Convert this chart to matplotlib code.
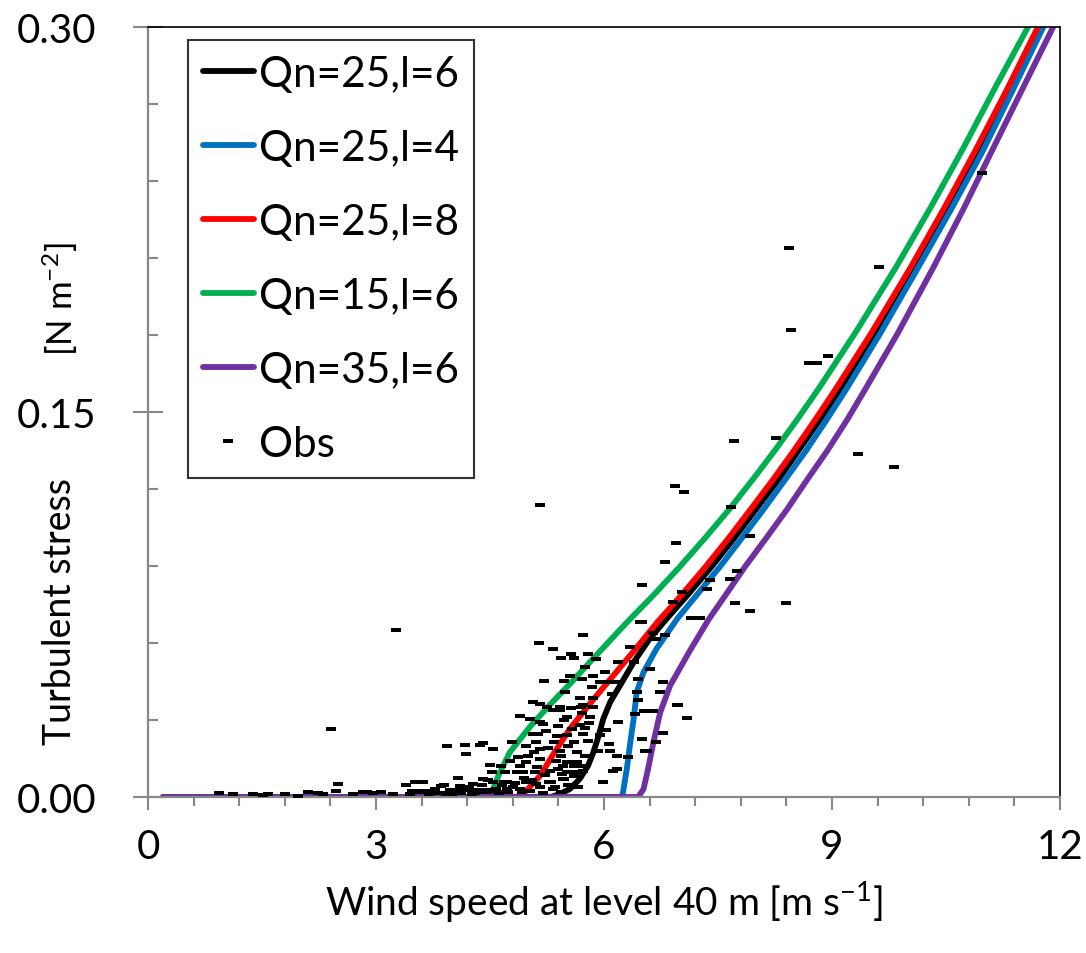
import matplotlib
matplotlib.use('Agg')
import matplotlib.pyplot as plt
import numpy as np
from matplotlib.ticker import MultipleLocator, FixedLocator

plt.rcParams['font.family'] = ['Lato', 'DejaVu Sans']
plt.rcParams['mathtext.default'] = 'regular'

# model curves: wind speed [m/s] vs turbulent stress [N m-2]
black_u = [0.2, 5.3, 5.42, 5.55, 5.68, 5.79, 5.86, 5.93, 5.99, 6.08, 6.21, 6.39, 6.6, 6.82, 7.10, 7.42, 7.71, 7.99, 8.29, 8.56, 8.84, 9.11, 9.56, 10.08, 10.51, 10.92, 11.34, 11.75]
black_t = [0, 0, 0.0012, 0.0031, 0.007, 0.0122, 0.0174, 0.0239, 0.0304, 0.0369, 0.0434, 0.0525, 0.0616, 0.0693, 0.0787, 0.0899, 0.1007, 0.1117, 0.1235, 0.135, 0.147, 0.159, 0.1804, 0.2061, 0.2291, 0.2515, 0.2755, 0.30]

blue_u = [0.2, 6.23, 6.25, 6.30, 6.34, 6.39, 6.43, 6.52, 6.69, 6.96, 7.22, 7.53, 7.81, 8.09, 8.38, 8.66, 8.93, 9.19, 9.63, 10.13, 10.57, 10.98, 11.38, 11.78]
blue_t = [0, 0, 0.0018, 0.0109, 0.02, 0.0304, 0.0408, 0.0486, 0.0577, 0.0693, 0.0787, 0.0899, 0.1007, 0.1117, 0.1235, 0.135, 0.147, 0.159, 0.1804, 0.2061, 0.2291, 0.2515, 0.2755, 0.30]

red_u = [0.2, 4.85, 4.98, 5.16, 5.33, 5.55, 5.86, 6.12, 6.43, 6.71, 7.0, 7.33, 7.63, 7.92, 8.22, 8.5, 8.78, 9.05, 9.51, 10.03, 10.47, 10.88, 11.3, 11.71]
red_t = [0, 0, 0.0025, 0.0083, 0.0165, 0.0265, 0.0380, 0.0472, 0.0582, 0.0684, 0.0780, 0.0895, 0.1005, 0.1117, 0.1235, 0.135, 0.147, 0.159, 0.1804, 0.2061, 0.2291, 0.2515, 0.2755, 0.30]

green_u = [0.2, 4.5, 4.54, 4.61, 4.76, 5.03, 5.29, 5.55, 5.86, 6.3, 6.65, 7.0, 7.33, 7.66, 7.96, 8.26, 8.55, 8.84, 9.31, 9.85, 10.30, 10.72, 11.16, 11.58]
green_t = [0, 0, 0.0031, 0.0083, 0.0174, 0.0275, 0.0360, 0.0440, 0.0540, 0.0680, 0.0786, 0.0898, 0.1009, 0.1125, 0.1238, 0.1355, 0.1474, 0.1598, 0.181, 0.2068, 0.2298, 0.2524, 0.2771, 0.30]

purple_u = [0.2, 6.2, 6.45, 6.52, 6.58, 6.65, 6.74, 6.87, 7.13, 7.38, 7.6, 7.86, 8.13, 8.40, 8.67, 8.94, 9.20, 9.44, 9.86, 10.33, 10.73, 11.1, 11.5, 11.91]
purple_t = [0, 0, 0, 0.0031, 0.0109, 0.0213, 0.033, 0.0434, 0.057, 0.0693, 0.0787, 0.0899, 0.1007, 0.1117, 0.1235, 0.135, 0.147, 0.159, 0.1804, 0.2061, 0.2291, 0.2515, 0.2755, 0.30]

# observations
obs_u = [0.93, 1.12, 1.38, 1.51, 1.58, 1.80, 1.98, 2.11, 2.24, 2.30, 2.41, 2.48, 2.50, 2.70, 2.83, 2.88, 2.96,
         3.07, 3.23, 3.26, 3.40, 3.47, 3.51, 3.55, 3.62, 3.66, 3.73, 3.86, 3.89, 3.93, 3.97, 4.06, 4.08, 4.10,
         4.17, 4.17, 4.19, 4.19, 4.28, 4.32, 4.37, 4.41, 4.41, 4.43, 4.47, 4.50, 4.52, 4.52, 4.54, 4.54, 4.65,
         4.68, 4.70, 4.72, 4.76, 4.79, 4.83, 4.85, 4.87, 4.89, 4.89, 4.89, 4.94, 4.98, 4.98, 5.00, 5.03, 5.06,
         5.07, 5.09, 5.11, 5.13, 5.14, 5.16, 5.16, 5.16, 5.16, 5.16, 5.21, 5.24, 5.25, 5.29, 5.33, 5.33, 5.33,
         5.38, 5.39, 5.40, 5.42, 5.42, 5.44, 5.44, 5.46, 5.47, 5.42, 5.46, 5.48, 5.49, 5.51, 5.51, 5.51, 5.51,
         5.55, 5.57, 5.57, 5.60, 5.60, 5.60, 5.62, 5.64, 5.68, 5.68, 5.71, 5.71, 5.72, 5.73, 5.73, 5.73, 5.75,
         5.75, 5.75, 5.79, 5.79, 5.82, 5.86, 5.86, 5.86, 5.90, 5.95, 5.95, 5.99, 6.01, 6.06, 6.06, 6.08, 6.10,
         6.12, 6.17, 6.17, 6.17, 6.19, 6.19, 6.32, 6.34, 6.39, 6.41, 6.43, 6.45, 6.45, 6.47, 6.50, 6.50, 6.50,
         6.52, 6.54, 6.56, 6.61, 6.65, 6.65, 6.69, 6.69, 6.74, 6.78, 6.78, 6.80, 6.80, 6.91, 6.93, 6.95, 6.96,
         6.98, 7.02, 7.05, 7.09, 7.15, 7.26, 7.35, 7.40, 7.66, 7.67, 7.71, 7.73, 7.75, 7.92, 7.92, 8.26, 8.39,
         8.43, 8.46, 8.70, 8.80, 8.95, 9.34, 9.62, 9.82, 10.97, 5.16, 5.73, 4.30, 4.60, 4.00, 3.80, 3.70,
         3.45, 3.58, 3.70, 3.78, 3.84, 3.92, 4.02, 4.12, 4.22, 4.26, 4.35, 4.40, 4.46, 4.58, 4.62, 4.66, 4.74,
         4.80, 4.92, 5.02, 5.10, 5.20, 5.27, 5.36, 4.95, 5.05, 5.12, 5.22, 5.30, 5.37, 5.45, 5.53, 5.60, 5.66,
         5.26, 5.34, 5.44, 5.52, 5.64, 5.80, 5.92, 6.02, 5.20, 5.48, 5.58, 5.70, 5.84, 4.56, 4.72, 4.98, 5.08]
obs_t = [0.0015, 0.0010, 0.0010, 0.0006, 0.0010, 0.0010, 0.0005, 0.0018, 0.0015, 0.0010, 0.0265, 0.0025, 0.0050, 0.0010, 0.0018, 0.0018, 0.0014,
         0.0020, 0.0010, 0.0650, 0.0047, 0.0025, 0.0057, 0.0025, 0.0060, 0.0025, 0.0025, 0.0044, 0.0047, 0.0200, 0.0027, 0.0027, 0.0073, 0.0044,
         0.0038, 0.0203, 0.0168, 0.0027, 0.0051, 0.0027, 0.0203, 0.0070, 0.0210, 0.0027, 0.0067, 0.0126, 0.0096, 0.0027, 0.0057, 0.0187, 0.0120,
         0.0057, 0.0096, 0.0031, 0.0141, 0.0215, 0.0055, 0.0096, 0.0155, 0.0122, 0.0314, 0.0031, 0.0096, 0.0135, 0.0057, 0.0161, 0.0304, 0.0371,
         0.0245, 0.0096, 0.0213, 0.0245, 0.0599, 0.0361, 0.0291, 0.0187, 0.0148, 0.0038, 0.0451, 0.0258, 0.0349, 0.0102, 0.0577, 0.0338, 0.0031,
         0.0239, 0.0109, 0.0278, 0.0338, 0.0350, 0.0542, 0.0018, 0.0070, 0.0451, 0.0180, 0.0120, 0.0070, 0.0410, 0.0310, 0.0240, 0.0135, 0.0097,
         0.0470, 0.0557, 0.0345, 0.0540, 0.0213, 0.0120, 0.0097, 0.0135, 0.0385, 0.0280, 0.0460, 0.0326, 0.0120, 0.0630, 0.0360, 0.0245, 0.0505,
         0.0270, 0.0160, 0.0557, 0.0220, 0.0310, 0.0470, 0.0385, 0.0350, 0.0538, 0.0450, 0.0240, 0.0057, 0.0486, 0.0450, 0.0206, 0.0178, 0.0400,
         0.0102, 0.0450, 0.0160, 0.0110, 0.0525, 0.0293, 0.0155, 0.0583, 0.0525, 0.0323, 0.0410, 0.0460, 0.0378, 0.0680, 0.0226, 0.0826, 0.0680,
         0.0336, 0.0180, 0.0180, 0.0500, 0.0640, 0.0336, 0.0616, 0.0216, 0.0410, 0.0447, 0.0250, 0.0915, 0.0630, 0.0760, 0.1210, 0.0990, 0.0360,
         0.0360, 0.0797, 0.1190, 0.0307, 0.0697, 0.0697, 0.0810, 0.0847, 0.0850, 0.1130, 0.1387, 0.0756, 0.0880, 0.1018, 0.0726, 0.1400, 0.0756,
         0.2138, 0.1820, 0.1690, 0.1690, 0.1720, 0.1336, 0.2066, 0.1287, 0.2430, 0.1138, 0.0100, 0.0015, 0.0020, 0.0012, 0.0015, 0.0018,
         0.0012, 0.0020, 0.0010, 0.0030, 0.0015, 0.0012, 0.0020, 0.0015, 0.0035, 0.0012, 0.0018, 0.0045, 0.0020, 0.0030, 0.0015, 0.0045, 0.0020,
         0.0040, 0.0018, 0.0025, 0.0050, 0.0015, 0.0060, 0.0040, 0.0075, 0.0065, 0.0115, 0.0085, 0.0060, 0.0140, 0.0090, 0.0045, 0.0080, 0.0040,
         0.0190, 0.0215, 0.0160, 0.0200, 0.0175, 0.0290, 0.0180, 0.0260, 0.0285, 0.0300, 0.0265, 0.0350, 0.0430, 0.0025, 0.0060, 0.0200, 0.0175]

series = [
    ('Qn=25,l=6', black_u, black_t, '#000000'),
    ('Qn=25,l=4', blue_u, blue_t, '#0070C0'),
    ('Qn=25,l=8', red_u, red_t, '#FF0000'),
    ('Qn=15,l=6', green_u, green_t, '#00B050'),
    ('Qn=35,l=6', purple_u, purple_t, '#7030A0'),
]

fig = plt.figure(figsize=(10.86, 9.54), dpi=100)
ax = fig.add_axes([148 / 1086, 1 - 798 / 954, 912 / 1086, 770 / 954])

for label, u, t, c in series:
    ax.plot(u, t, color=c, lw=4.2, label=label, solid_capstyle='round', solid_joinstyle='round')

dash = [(-1, -0.45), (1, -0.45), (1, 0.45), (-1, 0.45), (-1, -0.45)]
ax.plot(obs_u, obs_t, ls='none', marker=dash, ms=7, mew=0, color='black', label='Obs', zorder=5)

ax.set_xlim(0, 12)
ax.set_ylim(0, 0.30)

ax.xaxis.set_major_locator(FixedLocator([0, 3, 6, 9, 12]))
ax.xaxis.set_minor_locator(MultipleLocator(0.6))
ax.yaxis.set_major_locator(FixedLocator([0, 0.15, 0.30]))
ax.yaxis.set_minor_locator(MultipleLocator(0.03))
ax.set_yticklabels(['0.00', '0.15', '0.30'])
ax.set_xticklabels(['0', '3', '6', '9', '12'])

gray = '#888888'
ax.tick_params(axis='x', which='major', direction='out', length=9, width=1.5, color=gray, labelsize=29, pad=13)
ax.tick_params(axis='x', which='minor', direction='out', length=6.5, width=1.5, color=gray)
ax.tick_params(axis='y', which='major', direction='inout', length=22, width=1.5, color=gray, labelsize=29, pad=26)
ax.tick_params(axis='y', which='minor', direction='in', length=7, width=1.5, color=gray)

for s in ['left', 'bottom']:
    ax.spines[s].set_color(gray)
    ax.spines[s].set_linewidth(1.6)
for s in ['top', 'right']:
    ax.spines[s].set_color('black')
    ax.spines[s].set_linewidth(1.2)

ax.set_xlabel('Wind speed at level 40 m [m s$^{-1}$]', fontsize=28, labelpad=10)
ax.text(-0.0965, 0.2416, 'Turbulent stress', rotation=90, fontsize=27,
        ha='center', va='center', transform=ax.transAxes)
ax.text(-0.0965, 0.648, '[N m$^{-2}$]', rotation=90, fontsize=25,
        ha='center', va='center', transform=ax.transAxes)

leg = ax.legend(loc='upper left', bbox_to_anchor=(0.0439, 0.983), fontsize=30.5,
                frameon=True, fancybox=False, edgecolor='black', borderaxespad=0,
                handlelength=1.2, handletextpad=0.12, labelspacing=0.85,
                borderpad=0.35, markerscale=1.0)
leg.get_frame().set_linewidth(1.5)

fig.savefig('out.png', dpi=100)
